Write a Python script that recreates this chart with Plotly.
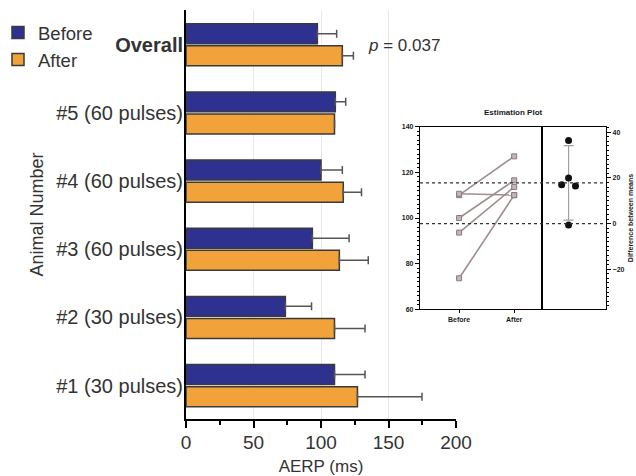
import plotly.graph_objects as go
import numpy as np

# ---------------- data ----------------
categories = ["#1 (30 pulses)", "#2 (30 pulses)", "#3 (60 pulses)",
              "#4 (60 pulses)", "#5 (60 pulses)", "Overall"]
before = [110, 73.6, 93.6, 100, 110.6, 97.3]
before_err = [22.6, 19.4, 27.2, 15.8, 7.7, 14.3]
after = [127, 110, 113.6, 116.5, 110, 115.8]
after_err = [47.8, 22.6, 21.4, 13.5, 0, 8.2]
x_ticks = [0, 50, 100, 150, 200]
p_text = "<i>p</i> = 0.037"

inset_groups = ["Before", "After"]
inset_ticks = [60, 80, 100, 120, 140]
diff_ticks = [-20, 0, 20, 40]

# ---------------- styles ----------------
FONT = "Liberation Sans, Arial, sans-serif"
NAVY = "#2e3190"
ORANGE = "#f2a23a"
EDGE = "#3a3a3a"
ERR = "#555555"
TXT = "#333333"
INK = "#1a1a1a"

OFF = 0                      # body margin removed by post_script below
W, H = 636 - OFF, 476 - OFF
ML, MT = 186 - OFF, 10 - OFF
MB = H - (419 - OFF)
MR = W - (631 - OFF)
PW = W - ML - MR
PH = H - MT - MB


def px_x(p):
    """screen pixel x -> paper fraction"""
    return (p - OFF - ML) / PW


def px_y(p):
    """screen pixel y -> paper fraction"""
    return 1 - (p - OFF - MT) / PH


fig = go.Figure()

fig.add_trace(go.Bar(
    name="After", y=categories, x=after, orientation="h",
    marker=dict(color=ORANGE, line=dict(color=EDGE, width=1.5)),
    error_x=dict(type="data", array=after_err, arrayminus=[0] * len(after),
                 symmetric=False, color=ERR, thickness=1.5, width=4),
    xaxis="x", yaxis="y"))
fig.add_trace(go.Bar(
    name="Before", y=categories, x=before, orientation="h",
    marker=dict(color=NAVY, line=dict(color=EDGE, width=1.5)),
    error_x=dict(type="data", array=before_err, arrayminus=[0] * len(before),
                 symmetric=False, color=ERR, thickness=1.5, width=4),
    xaxis="x", yaxis="y"))

# ---------------- inset: estimation plot ----------------
n = len(categories) - 1
ind_before = before[:n]
ind_after = after[:n]
for b, a in zip(ind_before, ind_after):
    fig.add_trace(go.Scatter(
        x=inset_groups, y=[b, a], mode="lines+markers",
        line=dict(color="#a08d8d", width=1.6),
        marker=dict(symbol="square", size=5, color="#c2b6b6",
                    line=dict(color="#8a7b7b", width=1)),
        showlegend=False, hoverinfo="skip", xaxis="x2", yaxis="y2"))

diffs = [a - b for a, b in zip(ind_after, ind_before)]
mean_b = float(np.mean(ind_before))
mean_a = float(np.mean(ind_after))
mean_d = float(np.mean(diffs))
ci = 2.776 * float(np.std(diffs, ddof=1)) / np.sqrt(len(diffs))

# simple swarm offsets: points close in value are spread sideways
order = np.argsort(diffs)[::-1]
offsets = [0.0] * len(diffs)
placed = []
SPREAD = 0.36
for i in order:
    near = [j for j in placed if abs(diffs[j] - diffs[i]) < 5]
    k = len(near)
    offsets[i] = 0.0 if k == 0 else (-SPREAD if k % 2 == 1 else SPREAD)
    placed.append(i)

fig.add_trace(go.Scatter(
    x=[0], y=[mean_d], mode="markers",
    marker=dict(size=1, color="#999999"),
    error_y=dict(type="data", array=[ci], color="#a0a0a0", thickness=1.2, width=5),
    showlegend=False, hoverinfo="skip", xaxis="x3", yaxis="y3"))
fig.add_trace(go.Scatter(
    x=offsets, y=diffs, mode="markers",
    marker=dict(size=7, color="#111111"),
    showlegend=False, hoverinfo="skip", xaxis="x3", yaxis="y3"))

# ---------------- layout ----------------
x2_dom = [px_x(420), px_x(541.7)]
x3_dom = [px_x(541.7), px_x(606)]
ins_dom = [px_y(309.3), px_y(126.7)]

small_font = dict(size=7, color=INK, family=FONT, weight="bold")

fig.update_layout(
    width=W, height=H,
    margin=dict(l=ML, r=MR, t=MT, b=MB, autoexpand=False),
    paper_bgcolor="white", plot_bgcolor="white",
    barmode="group", bargap=0.35, bargroupgap=0.1,
    font=dict(family=FONT, color=TXT),
    showlegend=True,
    legend=dict(x=px_x(-2), y=px_y(14), xanchor="left", yanchor="top",
                traceorder="reversed", font=dict(size=18.5, color=TXT),
                bgcolor="rgba(0,0,0,0)", itemwidth=30, tracegroupgap=0),
    xaxis=dict(domain=[0, px_x(456)], range=[0, 200], tickvals=x_ticks,
               showline=True, linecolor="black", linewidth=2,
               ticks="outside", ticklen=7, tickwidth=2, tickcolor="black",
               minor=dict(dtick=25, ticks="outside", ticklen=4, tickwidth=1.5,
                          tickcolor="black", showgrid=False),
               showgrid=True, gridcolor="#e8e8e8", gridwidth=1, zeroline=False,
               tickfont=dict(size=19, color=TXT), automargin=False,
               ticklabelstandoff=-2,
               title=dict(text="AERP (ms)", font=dict(size=17, color=TXT), standoff=8),
               anchor="y"),
    yaxis=dict(domain=[0, 1], type="category", categoryarray=categories,
               range=[-0.49, 5.51],
               tickvals=categories,
               ticktext=categories[:-1] + ["<b>" + categories[-1] + "</b>"],
               showline=True, linecolor="black", linewidth=2, ticks="",
               showgrid=False, zeroline=False, ticklabelstandoff=-3,
               tickfont=dict(size=20, color=TXT), automargin=False,
               title=dict(text="Animal Number", font=dict(size=18, color=TXT), standoff=8),
               anchor="x"),
    xaxis2=dict(domain=x2_dom, type="category", categoryarray=inset_groups,
                range=[-0.71, 1.5], anchor="y2",
                showline=True, mirror=True, linecolor="black", linewidth=1.3,
                ticks="outside", ticklen=3, tickcolor="black", tickwidth=1,
                showgrid=False, zeroline=False, automargin=False,
                tickfont=small_font),
    yaxis2=dict(domain=ins_dom, range=[60, 140], tickvals=inset_ticks, anchor="x2",
                showline=True, mirror=True, linecolor="black", linewidth=1.3,
                ticks="outside", ticklen=4, tickcolor="black", tickwidth=1,
                minor=dict(dtick=2, ticks="outside", ticklen=2, tickcolor="black"),
                showgrid=False, zeroline=False, automargin=False,
                tickfont=small_font),
    xaxis3=dict(domain=x3_dom, range=[-1.4, 1.95], anchor="y3",
                showline=True, mirror=True, linecolor="black", linewidth=1.3,
                showticklabels=False, ticks="", showgrid=False, zeroline=False,
                automargin=False),
    yaxis3=dict(domain=ins_dom, range=[60 - mean_b, 140 - mean_b], tickvals=diff_ticks,
                anchor="x3", side="right",
                showline=True, mirror=True, linecolor="black", linewidth=1.3,
                ticks="outside", ticklen=4, tickcolor="black", tickwidth=1,
                minor=dict(dtick=2, ticks="outside", ticklen=2, tickcolor="black"),
                showgrid=False, zeroline=False, automargin=False,
                tickfont=small_font,
                title=dict(text="<b>Difference between means</b>",
                           font=dict(size=7, color=INK), standoff=4)),
)

# dashed reference lines across the inset (group means)
for m in (mean_b, mean_a):
    fig.add_shape(type="line", xref="paper", yref="y2",
                  x0=x2_dom[0], x1=x3_dom[1], y0=m, y1=m,
                  line=dict(color="#333333", width=1.3, dash="dot"))

fig.add_annotation(text=p_text, xref="paper", yref="paper",
                   x=px_x(366), y=px_y(46), xanchor="left", yanchor="middle",
                   showarrow=False, font=dict(size=17, color=TXT))
fig.add_annotation(text="<b>Estimation Plot</b>", xref="paper", yref="paper",
                   x=px_x(513), y=px_y(112), xanchor="center", yanchor="middle",
                   showarrow=False, font=dict(size=8, color=INK))

fig.write_html("out.html",
               config={"displayModeBar": False},
               post_script="document.body.style.margin='0';"
                           "document.body.style.overflow='hidden';")
